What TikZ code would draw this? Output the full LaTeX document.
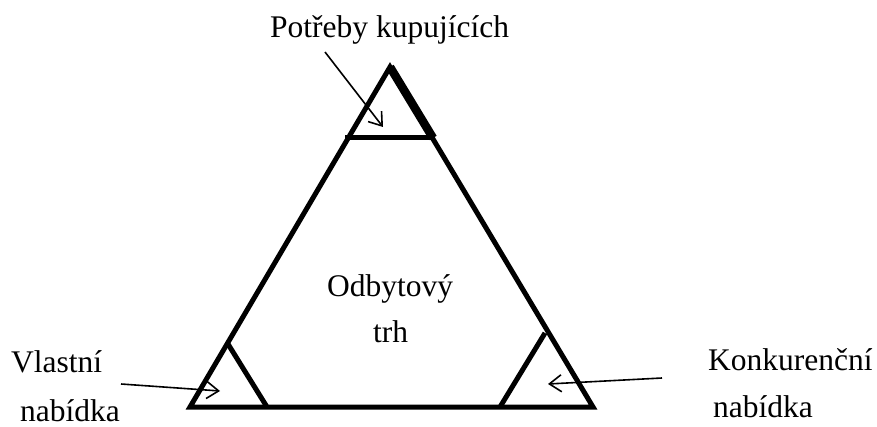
\documentclass[tikz,border=0pt]{standalone}
\usepackage{fontspec}
\setmainfont{Liberation Serif}
\usetikzlibrary{arrows.meta}
\begin{document}
\begin{tikzpicture}[x=1pt,y=-1pt,
  edge/.style={line width=5pt},
  thickedge/.style={line width=8.5pt},
  lbl/.style={anchor=base west,inner sep=0pt,font=\fontsize{31.5}{36}\selectfont},
  pointer/.style={line width=1.6pt,-{Straight Barb[length=12pt,width=17pt,line width=1.6pt]}}]
\useasboundingbox (0,0) rectangle (877,427);
% main triangle corners
\coordinate (A) at (390,67);
\coordinate (BL) at (190,407);
\coordinate (BR) at (593,407);
% top small triangle base
\coordinate (T1) at (345,138);
\coordinate (T2) at (433,138);
% left small triangle
\coordinate (L1) at (228,344);
\coordinate (L2) at (267,407);
% right small triangle
\coordinate (R1) at (545,333);
\coordinate (R2) at (500,407);
\draw[edge,line join=miter] (A) -- (BR) -- (BL) -- cycle;
\draw[thickedge] (A) -- (T2);
\draw[edge] (T1) -- (T2);
\draw[edge] (L1) -- (L2);
\draw[edge] (R1) -- (R2);
% labels
\node[lbl] (pk) at (270,38) {Potřeby kupujících};
\node[lbl] (ot) at (327,297) {Odbytový};
\node[lbl] (tr) at (373,342) {trh};
\node[lbl] (vl) at (11,372) {Vlastní};
\node[lbl] (nb1) at (20,421) {nabídka};
\node[lbl] (ko) at (708,370) {Konkurenční};
\node[lbl] (nb2) at (713,417) {nabídka};
% arrows
\coordinate (pa1) at (325,52);
\coordinate (pa2) at (383,127);
\coordinate (la1) at (121,384);
\coordinate (la2) at (220,391);
\coordinate (ra1) at (662,378);
\coordinate (ra2) at (548,384);
\draw[pointer] (pa1) -- (pa2);
\draw[pointer] (la1) -- (la2);
\draw[pointer] (ra1) -- (ra2);
\end{tikzpicture}
\end{document}
